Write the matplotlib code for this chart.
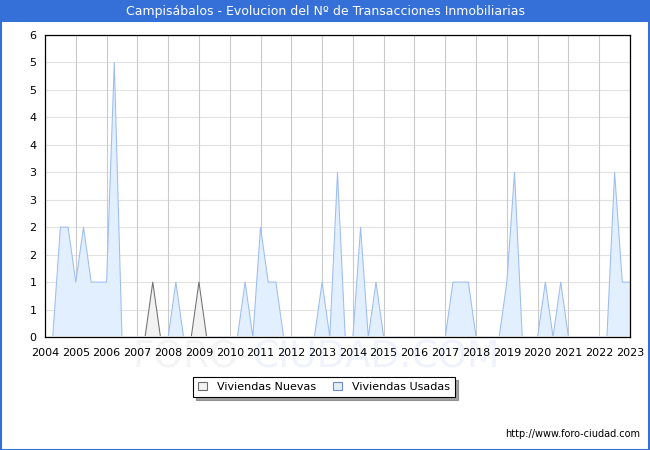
import matplotlib
matplotlib.use("Agg")
import matplotlib.pyplot as plt
import numpy as np
from matplotlib.patches import Rectangle

# Quarterly positions 2004.0 .. 2023.0
quarters = [2004 + 0.25 * i for i in range(77)]

usadas = [
    0, 0, 2, 2,   # 2004
    1, 2, 1, 1,   # 2005
    1, 5, 0, 0,   # 2006
    0, 0, 0, 0,   # 2007
    0, 1, 0, 0,   # 2008
    0, 0, 0, 0,   # 2009
    0, 0, 1, 0,   # 2010
    2, 1, 1, 0,   # 2011
    0, 0, 0, 0,   # 2012
    1, 0, 3, 0,   # 2013
    0, 2, 0, 1,   # 2014
    0, 0, 0, 0,   # 2015
    0, 0, 0, 0,   # 2016
    0, 1, 1, 1,   # 2017
    0, 0, 0, 0,   # 2018
    1, 3, 0, 0,   # 2019
    0, 1, 0, 1,   # 2020
    0, 0, 0, 0,   # 2021
    0, 0, 3, 1,   # 2022
    1,            # 2023
]

nuevas = [
    0, 0, 0, 0,   # 2004
    0, 0, 0, 0,   # 2005
    0, 0, 0, 0,   # 2006
    0, 0, 1, 0,   # 2007
    0, 0, 0, 0,   # 2008
    1, 0, 0, 0,   # 2009
    0, 0, 0, 0,   # 2010
    0, 0, 0, 0,   # 2011
    0, 0, 0, 0,   # 2012
    0, 0, 0, 0,   # 2013
    0, 0, 0, 0,   # 2014
    0, 0, 0, 0,   # 2015
    0, 0, 0, 0,   # 2016
    0, 0, 0, 0,   # 2017
    0, 0, 0, 0,   # 2018
    0, 0, 0, 0,   # 2019
    0, 0, 0, 0,   # 2020
    0, 0, 0, 0,   # 2021
    0, 0, 0, 0,   # 2022
    0,            # 2023
]

years = list(range(2004, 2024))
yticks = [0.5 * i for i in range(12)]
ytick_labels = [str(int(v + 0.5)) for v in yticks]

title = "Campisábalos - Evolucion del Nº de Transacciones Inmobiliarias"
legend_labels = ["Viviendas Nuevas", "Viviendas Usadas"]
url = "http://www.foro-ciudad.com"

W, H = 650, 450
fig = plt.figure(figsize=(W / 100, H / 100), dpi=100)
fig.patch.set_facecolor("white")

blue = "#3470d8"
# title bar and border
fig.patches.append(Rectangle((0, 1 - 22 / H), 1, 22 / H, transform=fig.transFigure,
                             facecolor=blue, edgecolor="none", zorder=-5))
fig.patches.append(Rectangle((0.5 / W, 0.5 / H), 1 - 2 / W, 1 - 1 / H, transform=fig.transFigure,
                             facecolor="none", edgecolor=blue, linewidth=1.5, zorder=-5))
fig.text(0.5, 1 - 11 / H, title, color="white", ha="center", va="center", fontsize=9)

# watermark
fig.text(253 / W, 1 - 357 / H, "FORO-", color="#f4f4f4", ha="right", va="center",
         fontsize=27, zorder=-2)
fig.text(253 / W, 1 - 357 / H, "CIUDAD.COM", color="#f0f3fd", ha="left", va="center",
         fontsize=27, zorder=-2)

ax = fig.add_axes([45 / W, 1 - 337 / H, 585 / W, 302 / H])
ax.set_facecolor("none")

x = np.array(quarters)
u = np.array(usadas, dtype=float)
n = np.array(nuevas, dtype=float)

ax.fill_between(x, 0, n, facecolor="#f2f2f2", edgecolor="none", zorder=2)
ax.plot(x, n, color="#707070", linewidth=0.75, zorder=3)
ax.fill_between(x, 0, u, facecolor="#e1efff", edgecolor="none", zorder=2)
ax.plot(x, u, color="#9dbdf0", linewidth=0.75, zorder=3)
# hide baseline parts of the lines
ax.axhline(0, color="white", linewidth=1.2, zorder=3.5)

ax.set_xlim(2004, 2023)
ax.set_ylim(0, 5.5)
ax.set_xticks(years)
ax.set_xticklabels([str(y) for y in years], fontsize=8)
ax.set_yticks(yticks)
ax.set_yticklabels(ytick_labels, fontsize=8)
ax.tick_params(length=0)
ax.tick_params(axis="x", pad=8)
ax.tick_params(axis="y", pad=6)
for yv in yticks:
    ax.axhline(yv, color="#e2e2e2", linewidth=0.8, zorder=1)
for xv in years:
    ax.axvline(xv, color="#cacaca", linewidth=0.8, zorder=1)
for s in ax.spines.values():
    s.set_color("black")
    s.set_linewidth(0.9)
    s.set_zorder(5)

# legend
h1 = Rectangle((0, 0), 1, 1, facecolor="#f2f2f2", edgecolor="#6e6e6e", linewidth=0.8)
h2 = Rectangle((0, 0), 1, 1, facecolor="#e1efff", edgecolor="#6e8ec8", linewidth=0.8)
leg = fig.legend([h1, h2], legend_labels, loc="center", bbox_to_anchor=(324 / W, 1 - 387 / H),
                 ncol=2, fontsize=8, frameon=True, fancybox=False, shadow=True,
                 handlelength=0.8, handleheight=0.8, handletextpad=0.9, columnspacing=1.5,
                 borderpad=0.45, borderaxespad=0)
leg.get_frame().set_edgecolor("black")
leg.get_frame().set_linewidth(0.8)

fig.text(640 / W, 1 - 434 / H, url, ha="right", va="center", fontsize=7)

fig.savefig("out.png", dpi=100)
